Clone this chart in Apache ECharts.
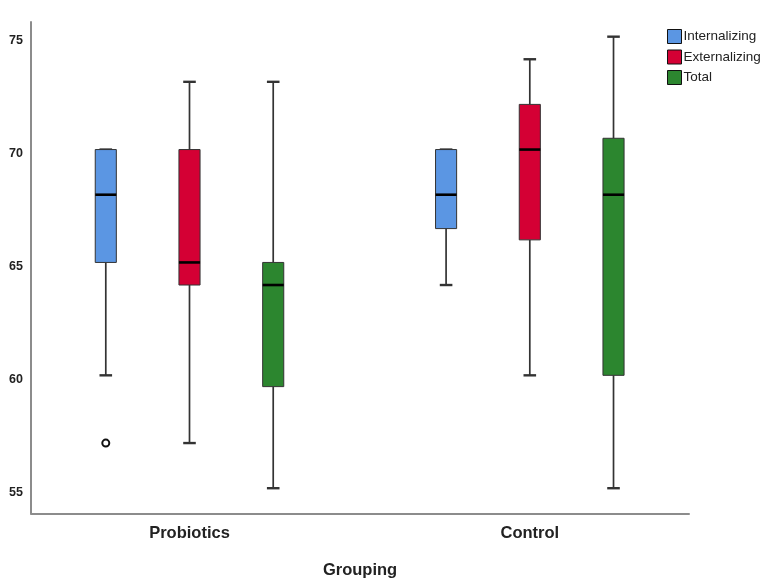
<!DOCTYPE html>
<html>
<head>
<meta charset="utf-8">
<script src="https://cdn.jsdelivr.net/npm/echarts@6/dist/echarts.min.js"></script>
<style>
  html, body { margin: 0; padding: 0; background: #fff; }
  #chart { width: 766px; height: 580px; }
</style>
</head>
<body>
<div id="chart"></div>
<script>
// ---- data ----
const categories = ['Probiotics', 'Control'];
const measures = ['Internalizing', 'Externalizing', 'Total'];
// [min, Q1, median, Q3, max] per category
const internalizing = [[60, 65, 68, 70, 70], [64, 66.5, 68, 70, 70]];
const externalizing = [[57, 64, 65, 70, 73], [60, 66, 70, 72, 74]];
const total = [[55, 59.5, 64, 65, 73], [55, 60, 68, 70.5, 75]];
// [categoryIndex, measureIndex, value]
const outliers = [[0, 0, 57]];
const yTicks = [55, 60, 65, 70, 75];
const xName = 'Grouping';

// ---- style ----
const colors = ['#5B96E3', '#D40034', '#2C862F'];
const Y_MIN = 53.88, Y_MAX = 75.65;
const OFFSET_FRAC = 0.246;   // distance between boxes of a group, fraction of band
const BOX_FRAC = 0.062;      // box width, fraction of band
const CAP_FRAC = 0.037;      // whisker cap width, fraction of band
const FONT = 'Liberation Sans, Arial, sans-serif';

function boxRender(measureIdx) {
  return function (params, api) {
    const cat = api.value(0);
    const band = api.size([1, 0])[0];
    const cx = api.coord([cat, 0])[0] + (measureIdx - 1) * OFFSET_FRAC * band;
    const y = v => api.coord([cat, v])[1];
    const yMin = y(api.value(1)), yQ1 = y(api.value(2)), yMed = y(api.value(3)),
          yQ3 = y(api.value(4)), yMax = y(api.value(5));
    const bw = BOX_FRAC * band, cw = CAP_FRAC * band;
    const fill = api.visual('color');
    const wStyle = { stroke: '#333', lineWidth: 1.7 };
    const cStyle = { stroke: '#333', lineWidth: 2.4 };
    return {
      type: 'group',
      children: [
        { type: 'line', shape: { x1: cx, y1: yMax, x2: cx, y2: yQ3 }, style: wStyle },
        { type: 'line', shape: { x1: cx, y1: yQ1, x2: cx, y2: yMin }, style: wStyle },
        { type: 'line', shape: { x1: cx - cw / 2, y1: yMax, x2: cx + cw / 2, y2: yMax }, style: cStyle },
        { type: 'line', shape: { x1: cx - cw / 2, y1: yMin, x2: cx + cw / 2, y2: yMin }, style: cStyle },
        { type: 'rect', shape: { x: cx - bw / 2, y: yQ3, width: bw, height: yQ1 - yQ3 },
          style: { fill: fill, stroke: '#333', lineWidth: 1 } },
        { type: 'line', shape: { x1: cx - bw / 2, y1: yMed, x2: cx + bw / 2, y2: yMed },
          style: { stroke: '#000', lineWidth: 2.6 } }
      ]
    };
  };
}

function outlierRender(params, api) {
  const cat = api.value(0);
  const m = api.value(1);
  const band = api.size([1, 0])[0];
  const pt = api.coord([cat, api.value(2)]);
  return {
    type: 'circle',
    shape: { cx: pt[0] + (m - 1) * OFFSET_FRAC * band, cy: pt[1], r: 3.5 },
    style: { fill: '#fff', stroke: '#111', lineWidth: 2 }
  };
}

const measureData = [internalizing, externalizing, total];

const series = measures.map((name, k) => ({
  name: name,
  type: 'custom',
  xAxisIndex: 1,
  yAxisIndex: 1,
  itemStyle: { color: colors[k], borderColor: '#111', borderWidth: 1 },
  renderItem: boxRender(k),
  encode: { x: 0, y: [1, 2, 3, 4, 5] },
  data: measureData[k].map((s, i) => [i].concat(s)),
  silent: true
}));
series.push({
  name: 'outliers',
  type: 'custom',
  xAxisIndex: 1,
  yAxisIndex: 1,
  renderItem: outlierRender,
  encode: { x: 0, y: 2 },
  data: outliers,
  silent: true
});

const axisLineStyle = { color: '#8c8c8c', width: 2 };

const option = {
  animation: false,
  backgroundColor: '#fff',
  grid: [
    { left: 31, top: 22, width: 658, height: 491.5, outerBoundsMode: 'none', containLabel: false },      // frame
    { left: 19.35, top: 22, width: 680.6, height: 491.5, outerBoundsMode: 'none', containLabel: false }   // boxes
  ],
  legend: {
    data: measures,
    orient: 'vertical',
    left: 667,
    top: 29,
    padding: 0,
    icon: 'rect',
    itemWidth: 14,
    itemHeight: 14,
    itemGap: 5.5,
    itemStyle: { borderColor: '#111', borderWidth: 1 },
    textStyle: { fontFamily: FONT, fontSize: 13.5, color: '#222', padding: [0, 0, 0, -3] },
    selectedMode: false
  },
  xAxis: [
    {
      gridIndex: 0, type: 'value', min: 0, max: 1,
      name: xName, nameLocation: 'middle', nameGap: 48,
      nameTextStyle: { fontFamily: FONT, fontSize: 16.5, fontWeight: 'bold', color: '#222' },
      axisLine: { show: true, lineStyle: axisLineStyle },
      axisTick: { show: false }, axisLabel: { show: false }, splitLine: { show: false }
    },
    {
      gridIndex: 1, type: 'category', data: categories,
      axisLine: { show: false }, axisTick: { show: false }, splitLine: { show: false },
      axisLabel: { fontFamily: FONT, fontSize: 16.5, fontWeight: 'bold', color: '#222', margin: 11 }
    }
  ],
  yAxis: [
    {
      gridIndex: 0, type: 'value', min: Y_MIN, max: Y_MAX,
      axisLine: { show: true, lineStyle: axisLineStyle },
      axisTick: { show: false }, splitLine: { show: false },
      axisLabel: {
        customValues: yTicks,
        margin: 8,
        formatter: '{t|{value}}',
        rich: {
          t: { fontFamily: FONT, fontSize: 12.5, fontWeight: 'bold', color: '#222', padding: [8, 0, 0, 0] }
        }
      }
    },
    {
      gridIndex: 1, type: 'value', min: Y_MIN, max: Y_MAX, show: false,
      splitLine: { show: false }
    }
  ],
  series: series
};

const chart = echarts.init(document.getElementById('chart'), null, { renderer: 'canvas' });
chart.setOption(option);
</script>
</body>
</html>
